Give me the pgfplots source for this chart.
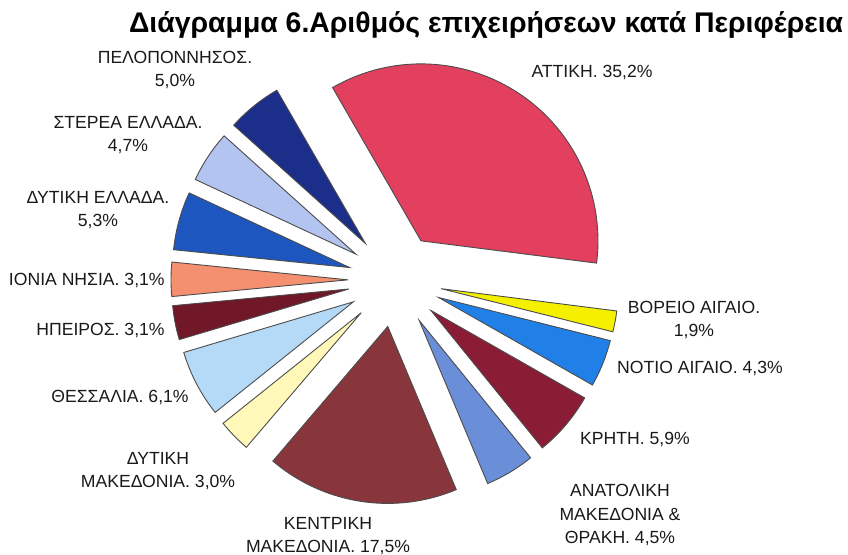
\documentclass[border=0pt]{standalone}
\usepackage{pgfplots}
\pgfplotsset{compat=1.18}
\usepackage{fontspec}
\setmainfont{Liberation Sans}

\definecolor{cAtt}{HTML}{E2405E}
\definecolor{cVor}{HTML}{F5F000}
\definecolor{cNot}{HTML}{2080E8}
\definecolor{cKri}{HTML}{8A1C36}
\definecolor{cAna}{HTML}{6A8FD8}
\definecolor{cKen}{HTML}{88363C}
\definecolor{cDmk}{HTML}{FFF8B8}
\definecolor{cThe}{HTML}{B4DAF8}
\definecolor{cIpe}{HTML}{701828}
\definecolor{cIon}{HTML}{F49070}
\definecolor{cDel}{HTML}{1E56C0}
\definecolor{cSte}{HTML}{B4C4F0}
\definecolor{cPel}{HTML}{1A2E8A}

\tikzset{lbl/.style={font=\fontsize{8.8}{11.8}\selectfont, text=black!90, align=center, inner sep=0pt}}

% pie geometry in pixel units: centre (395,-280), radius 177, explode 47
% percentages sum to 99.6, so 1% = 360/99.6 = 3.61446 degrees
\gdef\cum{0}
\newcommand\slice[2]{%
  \pgfmathsetmacro\aA{120-\cum*3.61446}%
  \pgfmathsetmacro\aB{120-(\cum+#1)*3.61446}%
  \pgfmathsetmacro\aM{(\aA+\aB)/2}%
  \pgfmathsetmacro\px{395+47*cos(\aM)}%
  \pgfmathsetmacro\py{-280+47*sin(\aM)}%
  \pgfmathsetmacro\newcum{\cum+#1}\xdef\cum{\newcum}%
  \edef\temp{\noexpand\addplot[draw=black!70, line width=0.45pt, fill=#2, no markers,
      domain=\aB:\aA, samples=60, variable=\noexpand\t]
     ({\px+177*cos(\noexpand\t)}, {\py+177*sin(\noexpand\t)}) -- (axis cs:\px,\py) -- cycle;}%
  \temp}

\begin{document}
\begin{tikzpicture}
\begin{axis}[
    hide axis, x=0.5pt, y=0.5pt,
    xmin=0, xmax=848, ymin=-555, ymax=0,
    at={(0,0)}, anchor=north west, clip=false
]
\slice{35.2}{cAtt}
\slice{1.9}{cVor}
\slice{4.3}{cNot}
\slice{5.9}{cKri}
\slice{4.5}{cAna}
\slice{17.5}{cKen}
\slice{3.0}{cDmk}
\slice{6.1}{cThe}
\slice{3.1}{cIpe}
\slice{3.1}{cIon}
\slice{5.3}{cDel}
\slice{4.7}{cSte}
\slice{5.0}{cPel}

\node[font=\fontsize{14.2}{16}\selectfont\bfseries, text=black, inner sep=0pt] at (axis cs:486,-25) {Διάγραμμα 6.Αριθμός επιχειρήσεων κατά Περιφέρεια};

\node[lbl] at (axis cs:592,-72) {ΑΤΤΙΚΗ. 35,2\%};
\node[lbl] at (axis cs:694,-320) {ΒΟΡΕΙΟ ΑΙΓΑΙΟ.\\1,9\%};
\node[lbl] at (axis cs:700,-368) {ΝΟΤΙΟ ΑΙΓΑΙΟ. 4,3\%};
\node[lbl] at (axis cs:635,-439) {ΚΡΗΤΗ. 5,9\%};
\node[lbl] at (axis cs:620,-515) {ΑΝΑΤΟΛΙΚΗ\\ΜΑΚΕΔΟΝΙΑ \&\\ΘΡΑΚΗ. 4,5\%};
\node[lbl] at (axis cs:328,-536) {ΚΕΝΤΡΙΚΗ\\ΜΑΚΕΔΟΝΙΑ. 17,5\%};
\node[lbl] at (axis cs:158,-471) {ΔΥΤΙΚΗ\\ΜΑΚΕΔΟΝΙΑ. 3,0\%};
\node[lbl] at (axis cs:120,-397) {ΘΕΣΣΑΛΙΑ. 6,1\%};
\node[lbl, anchor=east] at (axis cs:165,-330) {ΗΠΕΙΡΟΣ. 3,1\%};
\node[lbl, anchor=east] at (axis cs:165,-280) {ΙΟΝΙΑ ΝΗΣΙΑ. 3,1\%};
\node[lbl] at (axis cs:98,-210) {ΔΥΤΙΚΗ ΕΛΛΑΔΑ.\\5,3\%};
\node[lbl] at (axis cs:128,-135) {ΣΤΕΡΕΑ ΕΛΛΑΔΑ.\\4,7\%};
\node[lbl] at (axis cs:175,-70) {ΠΕΛΟΠΟΝΝΗΣΟΣ.\\5,0\%};
\end{axis}
\pgfresetboundingbox
\path[use as bounding box] (0,0) rectangle (424pt,-277.5pt);
\end{tikzpicture}
\end{document}
